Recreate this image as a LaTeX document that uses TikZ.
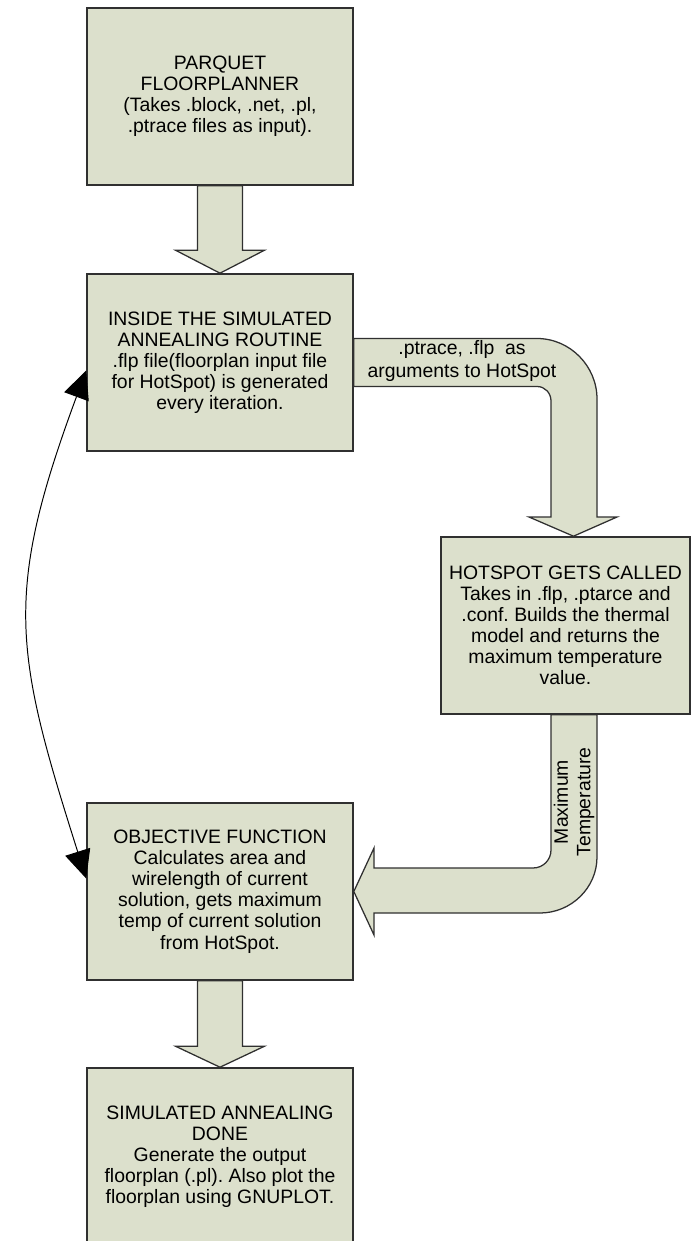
\documentclass[tikz,border=0pt]{standalone}
\usepackage{fontspec}
\setmainfont{Liberation Sans}
\usetikzlibrary{arrows.meta, calc}
\definecolor{boxfill}{HTML}{DCE0CC}
\definecolor{boxline}{HTML}{303030}

\begin{document}
\frenchspacing
\begin{tikzpicture}[
        x=0.025cm, y=-0.025cm,
        box/.style={rectangle, draw=boxline, fill=boxfill, line width=1.1pt,
                    minimum width=6.65cm, minimum height=4.425cm,
                    align=center, font=\fontsize{13.8}{15}\selectfont},
        blockarr/.style={draw=boxline, fill=boxfill, line width=0.9pt},
        lbl/.style={align=center, inner sep=0pt, font=\fontsize{13.8}{16}\selectfont},
        loopback/.style={{Triangle[length=7mm,width=6.5mm,fill=black]}-{Triangle[length=7mm,width=6.5mm,fill=black]},
                         line width=0.7pt, black}
      ]
        \useasboundingbox[fill=white] (0,0) rectangle (692,1241);

        \node[box] (parquet) at (220,96.5) {PARQUET\\FLOORPLANNER\\(Takes .block, .net, .pl,\\.ptrace files as input).};
        \node[box] (simann) at (220,362.5) {INSIDE THE SIMULATED\\ANNEALING ROUTINE\\.flp file(floorplan input file\\for HotSpot) is generated\\every iteration.};
        \node[box, minimum width=6.225cm] (hotspot) at (565.5,625.5) {HOTSPOT GETS CALLED\\Takes in .flp, .ptarce and\\.conf. Builds the thermal\\model and returns the\\maximum temperature\\value.};
        \node[box] (objfn) at (220,891.5) {OBJECTIVE FUNCTION\\Calculates area and\\wirelength of current\\solution, gets maximum\\temp of current solution\\from HotSpot.};
        \node[box] (sadone) at (220,1156.5) {SIMULATED ANNEALING\\DONE\\Generate the output\\floorplan (.pl). Also plot the\\floorplan using GNUPLOT.};

        % block arrows
        \draw[blockarr] ($(parquet.south)+(-22.5,0)$) -- ($(simann.north)+(-22.5,-23)$) -- ++(-22,0)
            -- (simann.north) -- ($(simann.north)+(44.5,-23)$) -- ++(-22,0) -- ($(parquet.south)+(22.5,0)$) -- cycle;
        \draw[blockarr] ($(simann.east)+(0,-24)$) -- (537,338.5) .. controls (570,338.5) and (597,366) .. (597,399)
            -- (597,517) -- (617,517) -- ($(hotspot.north)+(8,0)$) -- (529,517) -- (551,517)
            -- (551,401) .. controls (551,393) and (545,386.5) .. (537,386.5) -- ($(simann.east)+(0,24)$) -- cycle;
        \draw[blockarr] (551,0 |- hotspot.south) -- (551,850) .. controls (551,860) and (543,868) .. (533,868)
            -- (374,868) -- (374,848) -- (objfn.east) -- (374,935) -- (374,913)
            -- (540,913) .. controls (571,913) and (597,888) .. (597,857) -- (597,0 |- hotspot.south) -- cycle;
        \draw[blockarr] ($(objfn.south)+(-22.5,0)$) -- ($(sadone.north)+(-22.5,-21)$) -- ++(-22,0)
            -- (sadone.north) -- ($(sadone.north)+(44.5,-21)$) -- ++(-22,0) -- ($(objfn.south)+(22.5,0)$) -- cycle;

        \node[lbl] (argslbl) at (462,361) {.ptrace, .flp\ \ as\\arguments to HotSpot};
        \node[lbl, rotate=90] (templbl) at (574,802) {Maximum\\Temperature};

        % loop back
        \draw[loopback] ($(objfn.west)+(0,-13)$) .. controls +(-72,-227) and +(-83,224) .. ($(simann.west)+(0,8)$);
      \end{tikzpicture}
\end{document}
